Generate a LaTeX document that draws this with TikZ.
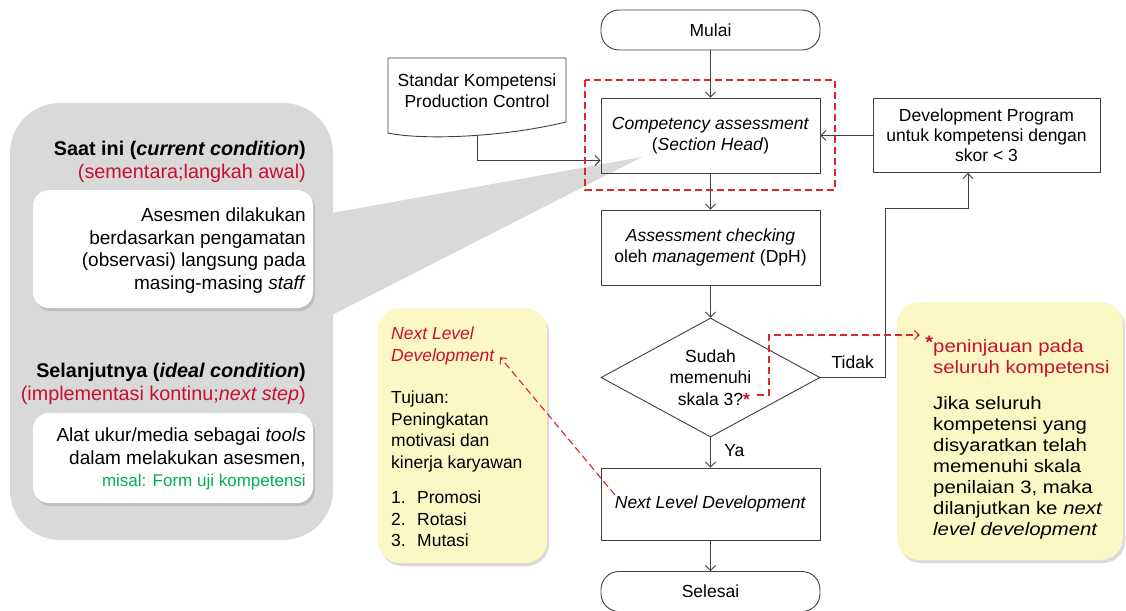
\documentclass[tikz,border=0pt]{standalone}
\usepackage{fontspec}
\setmainfont{Liberation Sans}
\newfontfamily\widesans[FakeStretch=1.13]{Liberation Sans}
\usetikzlibrary{arrows.meta,shapes.geometric,shadows}
\definecolor{calloutgray}{HTML}{D9D9D9}
\definecolor{notey}{HTML}{FBF8C6}
\definecolor{redtxt}{HTML}{C8102E}
\definecolor{greentxt}{HTML}{00B050}
\definecolor{dashred}{HTML}{DC2828}
\definecolor{linegray}{HTML}{404040}
\begin{document}
\begin{tikzpicture}[x=1pt,y=-1pt,
    font=\fontsize{17.5}{21.5}\selectfont,
    flowbox/.style={draw=linegray,line width=0.9pt,fill=white,minimum width=219pt,inner sep=2pt,align=center},
    termbox/.style={flowbox,rounded corners=18pt,minimum height=40pt},
    flowline/.style={draw=linegray,line width=0.9pt,-{Straight Barb[length=5pt,width=10pt]}},
    redline/.style={draw=dashred,line width=1.1pt,dash pattern=on 7pt off 4pt},
    notebox/.style={fill=notey,rounded corners=22pt,drop shadow={shadow xshift=2pt,shadow yshift=-3pt,opacity=.3}},
    whitebox/.style={fill=white,rounded corners=16pt,drop shadow={shadow xshift=2pt,shadow yshift=-3pt,opacity=.3}},
    leftfont/.style={font=\fontsize{19}{22.5}\selectfont}
  ]
  \useasboundingbox (0,0) rectangle (1126,610);

  \fill[calloutgray,rounded corners=50pt] (10,103) rectangle (333,540);
  \fill[calloutgray] (332,213) -- (642,157) -- (332,315) -- cycle;

  \node[whitebox,minimum width=280pt,minimum height=118pt] (nowbox) at (173,249) {};
  \node[whitebox,minimum width=280pt,minimum height=90pt] (nextbox) at (173,458) {};
  \node[font=\fontsize{19.8}{22.5}\selectfont,anchor=north east,align=right,inner sep=0pt] (nowhead) at (306,141)
    {\textbf{Saat ini (\textit{current condition})}\\\textcolor{redtxt}{(sementara;langkah awal)}};
  \node[leftfont,anchor=north east,align=right,inner sep=0pt] (nowtxt) at (306,208)
    {Asesmen dilakukan\\berdasarkan pengamatan\\(observasi) langsung pada\\masing-masing \textit{staff}};
  \node[font=\fontsize{19.8}{22.5}\selectfont,anchor=north east,align=right,inner sep=0pt] (nexthead) at (306,363)
    {\textbf{Selanjutnya (\textit{ideal condition})}\\\textcolor{redtxt}{(implementasi kontinu;\textit{next step})}};
  \node[leftfont,anchor=north east,align=right,inner sep=0pt] (nexttxt) at (306,428)
    {Alat ukur/media sebagai \textit{tools}\\dalam melakukan asesmen,\\\textcolor{greentxt}{\fontsize{17}{22.5}\selectfont misal: Form uji kompetensi}};

  \node[notebox,minimum width=169pt,minimum height=255pt] (levelnote) at (462.5,435.5) {};
  \node[anchor=north west,align=left,inner sep=0pt] (leveltxt) at (391,327)
    {\textcolor{redtxt}{\textit{Next Level}}\\\textcolor{redtxt}{\textit{Development}}\\[21pt]
     Tujuan:\\Peningkatan\\motivasi dan\\kinerja karyawan\\[14pt]
     \makebox[26pt][l]{1.}Promosi\\\makebox[26pt][l]{2.}Rotasi\\\makebox[26pt][l]{3.}Mutasi};
  \node[notebox,minimum width=226pt,minimum height=258pt] (reviewnote) at (1010,431) {};
  \node[anchor=north west,align=left,inner sep=0pt,font=\widesans\fontsize{18}{21}\selectfont] (reviewtxt) at (933,336)
    {\llap{\raisebox{4pt}{\textcolor{redtxt}{\textbf{*}}}}\textcolor{redtxt}{peninjauan pada}\\\textcolor{redtxt}{seluruh kompetensi}\\[15pt]
     Jika seluruh\\kompetensi yang\\disyaratkan telah\\memenuhi skala\\penilaian 3, maka\\dilanjutkan ke \textit{next}\\\textit{level development}};

  \draw[draw=linegray,line width=0.9pt,fill=white] (388,58) -- (566,58) -- (566,122)
    .. controls (500,138) and (420,140) .. (388,133) -- cycle;
  \node[align=center] (stdtxt) at (477,90.5) {Standar Kompetensi\\Production Control};
  \coordinate (docbot) at (477,135);

  \node[termbox] (start) at (710.5,30) {Mulai};
  \node[flowbox,fill=none,minimum height=75pt] (assess) at (710.5,135.5) {\textit{Competency assessment}\\(\textit{Section Head})};
  \node[flowbox,minimum height=75pt] (check) at (710.5,247.5) {\textit{Assessment checking}\\oleh \textit{management} (DpH)};
  \node[draw=linegray,line width=0.9pt,fill=white,diamond,aspect=1.84,minimum width=219pt,minimum height=119pt,inner sep=0pt,align=center] (dec) at (710.5,377.5)
    {Sudah\\memenuhi\\skala 3?\rlap{\textcolor{redtxt}{\textbf{*}}}};
  \node[flowbox,minimum height=72pt] (nld) at (710.5,504) {\textit{Next Level Development}};
  \node[termbox] (stop) at (710.5,591.5) {Selesai};
  \node[flowbox,minimum width=227pt,minimum height=74pt,font=\fontsize{17.5}{20}\selectfont] (dev) at (986.5,135.5)
    {Development Program\\untuk kompetensi dengan\\skor < 3};

  \draw[flowline] (start) -- (assess);
  \draw[flowline] (assess) -- (check);
  \draw[flowline] (check) -- (dec);
  \draw[flowline] (dec) -- node[right=10pt,pos=0.45] {Ya} (nld);
  \draw[flowline] (nld) -- (stop);
  \draw[flowline] (dev) -- (assess);
  \draw[flowline] (dec.east) -| (885,208) node[pos=0.25,above=5pt] {Tidak} -| ([xshift=-18.5pt]dev.south);
  \draw[flowline] (docbot) |- ([yshift=13pt]assess.south west);

  \draw[redline] (585,80) rectangle (835,190);
  \coordinate (nldtail) at (615,495);
  \coordinate (nldhead) at (500,357);
  \draw[redline,-{Straight Barb[length=5pt,width=9pt]}] (nldtail) -- (nldhead);
  \coordinate (startail) at (757,395);
  \coordinate (starhead) at (920,335);
  \draw[redline,-{Straight Barb[length=5pt,width=9pt]}] (startail) -| (769,335) -- (starhead);
\end{tikzpicture}
\end{document}
